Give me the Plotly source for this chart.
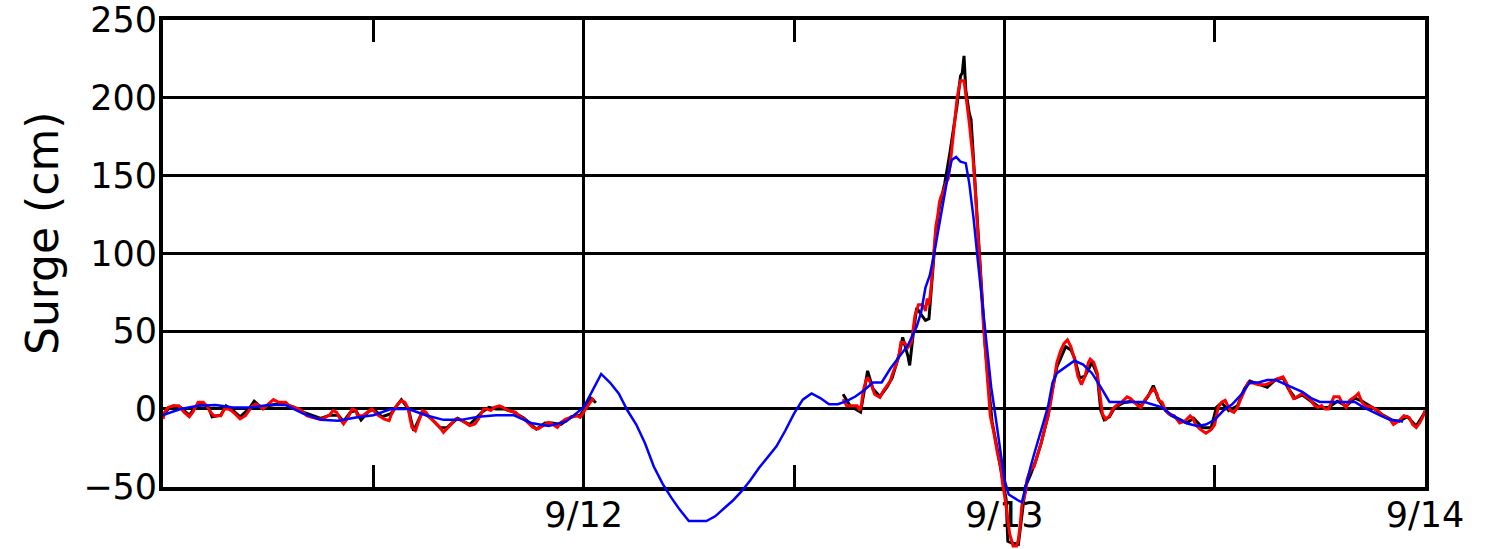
import plotly.graph_objects as go

# x values are hours since 9/11 00:00
blue_hours = [0,1,2,3,4,5,6,7,8,9,10,11,12,13,14,15,16,17,18,19,20,21,22,23,24,
              24.5,25,25.5,26,26.5,27,27.5,28,28.5,29,29.5,30,31,31.5,32,32.5,33,33.5,34,34.5,35,35.5,36,36.5,37,37.5,38,38.5,39,39.5,40,40.5,41,41.5,42,42.5,43,
              43.25,43.5,43.75,44,44.25,44.5,44.75,45,45.25,45.5,45.8,46,46.25,46.5,46.75,47,47.25,47.5,47.75,48,48.25,48.5,48.75,49,49.25,49.5,49.75,50,50.25,50.5,50.75,51,51.5,52,52.5,53,53.5,
              54,55,56,57,57.5,58,58.5,59,59.5,60,60.5,61,61.5,62,62.5,63,63.5,64,64.5,65,65.5,66,67,68,68.5,69,69.5,70,70.75]
blue_surge = [-4,0,2,2.5,1,1,2.5,2.5,-3,-7,-7.5,-5.5,-4,0,0,-4,-7,-7,-5,-4,-4,-9,-11,-8,1,
              12,22.5,17,10,-1,-10,-22,-37,-48,-57,-65,-72,-72,-69,-64,-59,-53,-46,-38,-31,-24,-14,-3,6,10,7,3,3,5,8,12,17,17,26,33.5,41,53,
              62,78,86,100,116,132,148,160,162,159,158,145,122,94,66,38,14,-5,-25,-45,-55,-57,-58.5,-60,-48,-37,-27,-18,-8,2,17,23,27,31,28.5,23,14,
              4.5,4.5,4.5,1,-3.5,-7,-9.5,-11,-10,-7,-1,3,9,17,17,18.6,18.6,16,13.5,11,7,4.5,4.5,4.5,1,-2,-4.5,-7,-8]

red_hours_1 = [0,0.1,0.3,0.6,0.9,1.2,1.5,1.7,1.9,2.0,2.3,2.5,2.7,2.9,3.3,3.5,3.7,3.9,4.1,4.4,4.7,4.9,5.1,5.3,5.5,5.7,6.1,6.3,6.6,7.0,7.2,7.5,7.8,
               8.0,8.2,8.5,8.9,9.1,9.3,9.5,9.7,9.9,10.1,10.3,10.5,10.7,10.8,11.0,11.1,11.4,11.7,11.9,12.1,12.3,12.6,12.9,13.0,13.2,13.4,13.6,13.8,
               14.0,14.1,14.2,14.4,14.5,14.7,14.8,15.0,15.2,15.4,15.6,15.8,16.0,16.2,16.4,16.7,16.9,17.2,17.5,17.8,18.0,18.2,18.3,18.5,18.7,18.9,
               19.2,19.4,19.7,20.1,20.3,20.6,20.8,21.1,21.4,21.7,22.0,22.2,22.5,22.7,23.0,23.3,23.6,23.8,24.0,24.2,24.4,24.5,24.6]
red_surge_1 = [-6.4,-2,1,2,2,-2,-5,-2,2,4.3,4.3,2,-2,-4.3,-4.3,0,0,-1,-3,-6.4,-4.3,-1,2,3.2,2,0,4.3,6,4.3,4.3,2,1,0,
               -2,-4.3,-5.4,-6.4,-6.4,-5.4,-4,-1,-2,-6.4,-9.6,-6.4,-2,0,-1,-4.3,-4.3,-2,0,-2,-4.3,-6.4,-7.5,-4.3,0,3.2,5.4,4.3,
               0,-6.4,-11.8,-14,-10.7,-5.4,-1,-2,-5.4,-7.5,-9.6,-11.8,-15,-12.8,-10.3,-6.4,-6.4,-8.6,-10.7,-9.6,-6.4,-2,0,0,-1,1,
               2,1,-1,-2,-4.3,-6.4,-8.6,-11.8,-12.8,-10.7,-8.6,-9.6,-11.8,-8.6,-6.4,-5.4,-4.3,-5.4,-2,2,5.4,6.4,5.4]

red_hours_2 = [38.8,39.0,39.3,39.6,39.75,39.85,39.95,40.1,40.2,40.4,40.6,40.9,41.1,41.3,41.5,41.6,41.8,42.0,42.1,42.3,42.5,42.7,42.8,42.9,
               43.1,43.3,43.4,43.5,43.6,43.7,43.8,43.9,44.0,44.1,44.2,44.3,44.4,44.5,44.7,44.8,44.9,45.0,45.1,45.2,45.3,45.4,45.5,45.7,45.8,45.9,
               46.0,46.1,46.2,46.3,46.4,46.5,46.6,46.7,46.8,46.9,47.0,47.1,47.2,47.4,47.6,47.8,47.9,48.1,48.2,48.3,48.5,48.7,48.8,48.9,49.0,49.2,
               49.3,49.5,49.7,49.9,50.1,50.3,50.5,50.7,50.9,51.0,51.2,51.4,51.6,51.8,52.0,52.2,52.4,52.6,52.8,52.9,53.1,53.3,53.4,53.5,53.6,53.8,
               54.0,54.2,54.4,54.7,55.0,55.2,55.4,55.6,55.8,56.0,56.3,56.5,56.7,56.8,57.0,57.2,57.4,57.7,58.0,58.3,58.6,58.8,58.9,59.2,59.5,59.8,
               60.0,60.2,60.4,60.6,60.7,60.9,61.1,61.3,61.5,61.7,61.9,62.2,62.5,62.9,63.2,63.5,63.9,64.1,64.3,64.5,64.7,65.0,65.2,65.4,65.7,65.9,
               66.1,66.3,66.5,66.8,67.1,67.3,67.5,67.7,68.0,68.2,68.4,68.6,69.0,69.3,69.6,70.0,70.2,70.5,70.8,71.1,71.3,71.5,71.7,71.9,72.0]
red_surge_2 = [6.3,2,2,2,-1,3,11.7,18,20.2,16,9.5,7.4,11.7,15,18,22,27.7,35,42.7,42.7,39.5,42.7,50,60,
               67,67,66,63,71,67,75.5,88,101,118,124,133,137,139,146,148,156,167,178,188,199,206,211,211,203,195,
               184,173,163,148,131,110,93,75,55,40,25,12,-4.5,-15,-28,-38,-48,-62,-72,-80,-88,-88,-84,-75,-62,-54,
               -45,-39,-37,-30,-22,-13,-4.5,8,23,30,37,42,44.4,40,32,21,15.6,21,30,32,30,23,14,3.3,-3.3,-6.7,
               -4.4,0,2.2,4.4,7.8,6.7,4.4,2.2,1,5.6,10,13,10,5.6,4.4,-1,-3.3,-4.4,-9,-7.8,-4.4,-6.7,-10,-13.3,-15.6,-13.3,
               -10,1,4.4,5.6,3.3,-1,-2.2,1,6.7,12,16.7,16.7,15.6,15.6,17,19,20.7,16.7,11,6.7,7.8,10,7.8,6.7,2.2,1,
               2.2,0,0,7.8,7.8,3.3,1,5.6,7.8,10,4.4,2.2,1,-1,-4.4,-6.7,-10,-7.8,-4.4,-5.5,-10,-12,-8.9,-4.4,-1]

black_hours_1 = [0,0.3,0.6,1.0,1.5,1.9,2.2,2.6,2.8,3.3,3.6,4.0,4.4,4.9,5.2,5.6,6.0,6.4,7.0,7.5,8.0,8.5,9.0,9.5,10.0,10.3,10.7,11.0,11.3,11.7,
                 12.0,12.5,13.0,13.6,14.0,14.3,14.8,15.3,15.8,16.2,16.8,17.5,18.2,18.6,19.0,19.5,20.0,20.6,21.3,21.8,22.2,22.7,23.3,23.8,24.2,24.4,24.7]
black_surge_1 = [-4,0,2,1,-4,2,4,1,-5,-4,2,-1,-5,0,5,1,2,3,3,1,-2,-4,-6,-4,-4,-8,-2,-1,-7,-2,
                 0,-5,-3,6,0,-14,-2,-6,-12,-12,-6,-10,-2,1,0,0,-2,-6,-13,-9,-9,-10,-5,-4,2,7,4]

black_hours_2 = [38.8,39.2,39.8,40.0,40.2,40.5,40.9,41.3,41.6,42.0,42.2,42.5,42.6,42.8,43.0,43.3,43.5,43.7,43.9,44.1,44.3,44.6,44.9,45.1,45.3,
                 45.5,45.6,45.7,45.8,46.0,46.1,46.3,46.5,46.7,46.9,47.1,47.3,47.6,47.9,48.1,48.2,48.4,48.8,49.0,49.2,49.5,49.8,50.1,50.5,50.7,
                 51.0,51.5,51.8,52.0,52.3,52.6,53.0,53.3,53.5,53.7,54.0,54.3,54.8,55.3,55.8,56.2,56.5,56.8,57.2,57.5,58.0,58.4,58.8,59.3,59.8,
                 60.1,60.4,60.8,61.3,61.7,62.0,62.5,63.0,63.5,63.9,64.2,64.6,65.0,65.5,66.0,66.5,67.0,67.5,68.0,68.4,69.0,69.6,70.1,70.5,71.0,71.5,72.0]
black_surge_2 = [9.5,2,-2,12,24.5,13,8,14,20,35,46,34,28,48,65,60,57,58,85,115,130,145,165,180,195,
                 214,216,227,205,190,186,150,112,78,42,15,-8,-26,-45,-58,-85,-86,-87,-70,-50,-42,-33,-22,-4,10,
                 27,40,38,33,20,21,30,22,-1,-7,-5,1,4,5,2,8,15,6,-1,-4,-7,-9,-6,-12,-12,
                 1,4,-1,2,13,18,16,14,19,20,13,7,9,5,1,1,5,2,7,5,1,-4,-7,-8,-5,-11,-2]

tick_positions = [24, 48, 72]
tick_labels = ["9/12", "9/13", "9/14"]
minor_positions = [12, 36, 60]
y_ticks = [-50, 0, 50, 100, 150, 200, 250]
y_labels = ["\u221250", "0", "50", "100", "150", "200", "250"]

X_RANGE = [0, 72]
Y_RANGE = [-50, 250]
Y_DATA_RANGE = [-90, 250]   # lines in the original run below the frame
frame_bottom = (Y_RANGE[0] - Y_DATA_RANGE[0]) / (Y_DATA_RANGE[1] - Y_DATA_RANGE[0])

black_x = black_hours_1 + [None] + black_hours_2
black_y = black_surge_1 + [None] + black_surge_2
red_x = red_hours_1 + [None] + red_hours_2
red_y = red_surge_1 + [None] + red_surge_2

fig = go.Figure()
# empty trace so the frame subplot (axes, grid, ticks) is drawn
fig.add_trace(go.Scatter(x=[], y=[], mode="lines", showlegend=False, hoverinfo="skip", xaxis="x", yaxis="y"))
fig.add_trace(go.Scatter(x=black_x, y=black_y, mode="lines", line=dict(color="black", width=3),
                         connectgaps=False, showlegend=False, xaxis="x2", yaxis="y2"))
fig.add_trace(go.Scatter(x=red_x, y=red_y, mode="lines", line=dict(color="#ff0000", width=3),
                         connectgaps=False, showlegend=False, xaxis="x2", yaxis="y2"))
fig.add_trace(go.Scatter(x=blue_hours, y=blue_surge, mode="lines", line=dict(color="#0000ff", width=2.5),
                         showlegend=False, xaxis="x2", yaxis="y2"))

font = dict(family="DejaVu Sans", size=35, color="black")

fig.update_layout(
    width=1486, height=549,
    margin=dict(l=163, r=61, t=20, b=0),
    paper_bgcolor="white", plot_bgcolor="rgba(0,0,0,0)",
    font=font,
    xaxis=dict(range=X_RANGE, domain=[0, 1], anchor="y", tickvals=tick_positions, ticktext=tick_labels,
               showgrid=True, gridcolor="black", gridwidth=3,
               ticks="inside", ticklen=22, tickwidth=3, tickcolor="black",
               minor=dict(tickvals=minor_positions, ticks="inside", ticklen=22, tickwidth=3, tickcolor="black", showgrid=False),
               showline=True, linecolor="black", linewidth=4, mirror="ticks",
               zeroline=False, tickfont=font, automargin=False, ticklabelstandoff=-6),
    yaxis=dict(range=Y_RANGE, domain=[frame_bottom, 1], anchor="x", tickvals=y_ticks, ticktext=y_labels,
               showgrid=True, gridcolor="black", gridwidth=3,
               zeroline=True, zerolinecolor="black", zerolinewidth=3,
               ticks="", showline=True, linecolor="black", linewidth=4, mirror=True,
               tickfont=font, automargin=False, ticklabelstandoff=-5),
    xaxis2=dict(range=X_RANGE, domain=[0, 1], anchor="y2", visible=False, automargin=False),
    yaxis2=dict(range=Y_DATA_RANGE, domain=[0, 1], anchor="x2", visible=False, automargin=False),
    annotations=[dict(text="Surge (cm)", textangle=-90, xref="paper", yref="paper",
                      x=-0.096, y=0.597, xanchor="center", yanchor="middle", showarrow=False,
                      font=dict(family="DejaVu Sans", size=44, color="black"))],
)

fig.write_html("out.html", config={"displayModeBar": False},
               post_script="document.body.style.margin='0';")
